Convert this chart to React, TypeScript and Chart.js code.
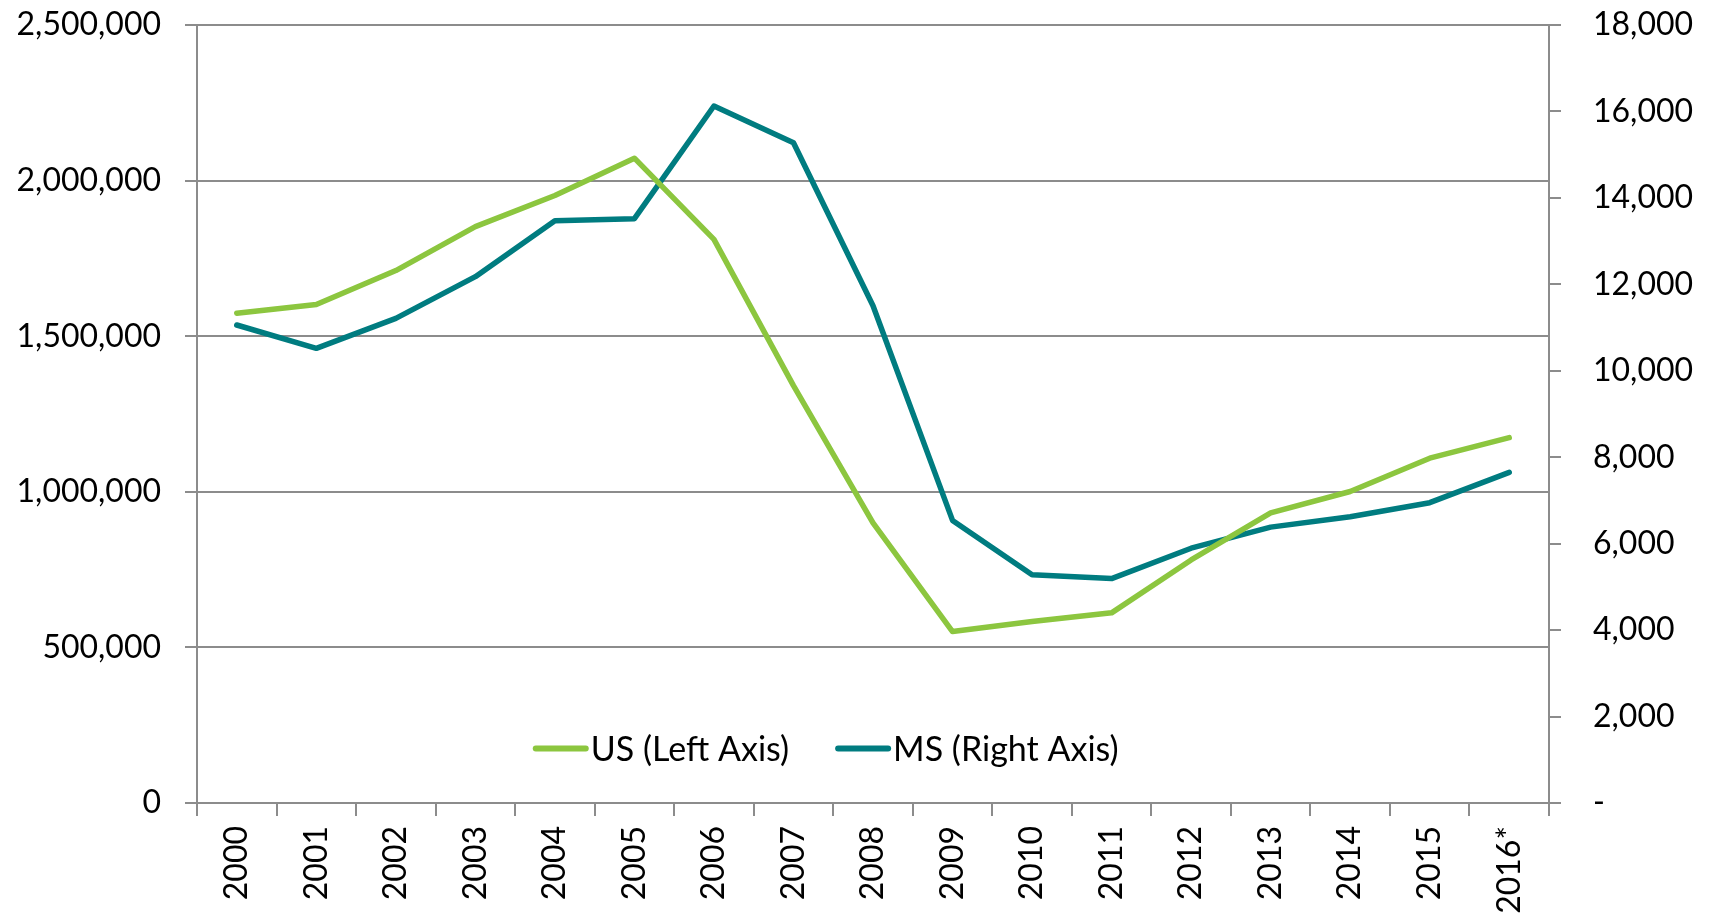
import React, { useEffect, useRef } from "react";
import { Chart, registerables } from "chart.js";

Chart.register(...registerables);

const years = ["2000", "2001", "2002", "2003", "2004", "2005", "2006", "2007", "2008", "2009", "2010", "2011", "2012", "2013", "2014", "2015", "2016*"];
const usValues = [1574000, 1602000, 1711000, 1852000, 1952000, 2072000, 1811000, 1341000, 900000, 551000, 583000, 611000, 781000, 932000, 1001000, 1108000, 1174000];
const msValues = [11059, 10519, 11213, 12177, 13473, 13519, 16126, 15277, 11506, 6538, 5280, 5192, 5895, 6383, 6624, 6948, 7651];
const usLabel = "US (Left Axis)";
const msLabel = "MS (Right Axis)";

const GREEN = "#8cc63f";
const TEAL = "#007c80";
const GRID = "#8c8c8c";
const FONT = "Lato, 'Open Sans', sans-serif";
const FONT_SIZE = 32;

const fmt = (v: number) => Math.round(v).toLocaleString("en-US");

const legendPlugin = {
  id: "customLegend",
  afterDraw(chart: any) {
    const { ctx, chartArea } = chart;
    const items = [
      { label: usLabel, color: GREEN },
      { label: msLabel, color: TEAL },
    ];
    ctx.save();
    ctx.font = `34px ${FONT}`;
    ctx.textBaseline = "middle";
    const lineLen = 56;
    const gapText = 2;
    const gapItem = 46;
    const widths = items.map((it) => lineLen + gapText + ctx.measureText(it.label).width);
    const total = widths.reduce((a, b) => a + b, 0) + gapItem * (items.length - 1);
    const cx = chartArea.left + (chartArea.right - chartArea.left) * 0.465;
    const y = chartArea.top + (chartArea.bottom - chartArea.top) * 0.93;
    let x = cx - total / 2;
    items.forEach((it, i) => {
      ctx.strokeStyle = it.color;
      ctx.lineWidth = 6;
      ctx.lineCap = "round";
      ctx.beginPath();
      ctx.moveTo(x + 3, y);
      ctx.lineTo(x + lineLen - 3, y);
      ctx.stroke();
      ctx.fillStyle = "#000";
      ctx.textAlign = "left";
      ctx.fillText(it.label, x + lineLen + gapText, y + 1);
      x += widths[i] + gapItem;
    });
    ctx.restore();
  },
};

export default function App() {
  const ref = useRef<HTMLCanvasElement | null>(null);
  useEffect(() => {
    if (!ref.current) return;
    const chart = new Chart(ref.current, {
      type: "line",
      data: {
        labels: years,
        datasets: [
          {
            label: usLabel,
            data: usValues,
            borderColor: GREEN,
            backgroundColor: GREEN,
            borderWidth: 5.5,
            pointRadius: 0,
            tension: 0,
            yAxisID: "yL",
            borderJoinStyle: "round",
            borderCapStyle: "round",
          },
          {
            label: msLabel,
            data: msValues,
            borderColor: TEAL,
            backgroundColor: TEAL,
            borderWidth: 5.5,
            pointRadius: 0,
            tension: 0,
            yAxisID: "yR",
            borderJoinStyle: "round",
            borderCapStyle: "round",
          },
        ],
      },
      options: {
        responsive: false,
        animation: false,
        layout: { padding: { top: 25, left: 0, right: 0, bottom: 0 } },
        plugins: {
          legend: { display: false },
          tooltip: { enabled: false },
        },
        scales: {
          x: {
            offset: true,
            grid: {
              offset: true,
              drawOnChartArea: false,
              drawTicks: true,
              tickLength: 13,
              color: GRID,
              lineWidth: 2,
            },
            border: { display: true, color: GRID, width: 2 },
            ticks: {
              color: "#000",
              font: { family: FONT, size: FONT_SIZE },
              minRotation: 90,
              maxRotation: 90,
              padding: 10,
              autoSkip: false,
            },
            afterFit: (scale: any) => {
              scale.height = 120;
              scale.paddingLeft = 0;
              scale.paddingRight = 0;
            },
          },
          yL: {
            position: "left",
            min: 0,
            max: 2500000,
            ticks: {
              stepSize: 500000,
              color: "#000",
              font: { family: FONT, size: FONT_SIZE },
              padding: 24,
              callback: (v: any) => fmt(Number(v)),
            },
            grid: {
              color: GRID,
              lineWidth: 2,
              drawTicks: true,
              tickLength: 12,
            },
            border: { display: true, color: GRID, width: 2 },
            afterFit: (scale: any) => {
              scale.width = 197;
              scale.paddingTop = 0;
              scale.paddingBottom = 0;
            },
          },
          yR: {
            position: "right",
            min: 0,
            max: 18000,
            ticks: {
              stepSize: 2000,
              color: "#000",
              font: { family: FONT, size: FONT_SIZE },
              padding: 32,
              crossAlign: "near",
              callback: (v: any) => (Number(v) === 0 ? "-" : fmt(Number(v))),
            },
            grid: {
              drawOnChartArea: false,
              color: GRID,
              lineWidth: 2,
              drawTicks: true,
              tickLength: 12,
            },
            border: { display: true, color: GRID, width: 2 },
            afterFit: (scale: any) => {
              scale.width = 164;
              scale.paddingTop = 0;
              scale.paddingBottom = 0;
            },
          },
        },
      },
      plugins: [legendPlugin],
    } as any);
    return () => chart.destroy();
  }, []);
  return (
    <div style={{ position: "absolute", left: 0, top: 0, width: 1713, height: 923, background: "#fff" }}>
      <canvas ref={ref} width={1713} height={923} style={{ display: "block", width: 1713, height: 923 }} />
    </div>
  );
}
